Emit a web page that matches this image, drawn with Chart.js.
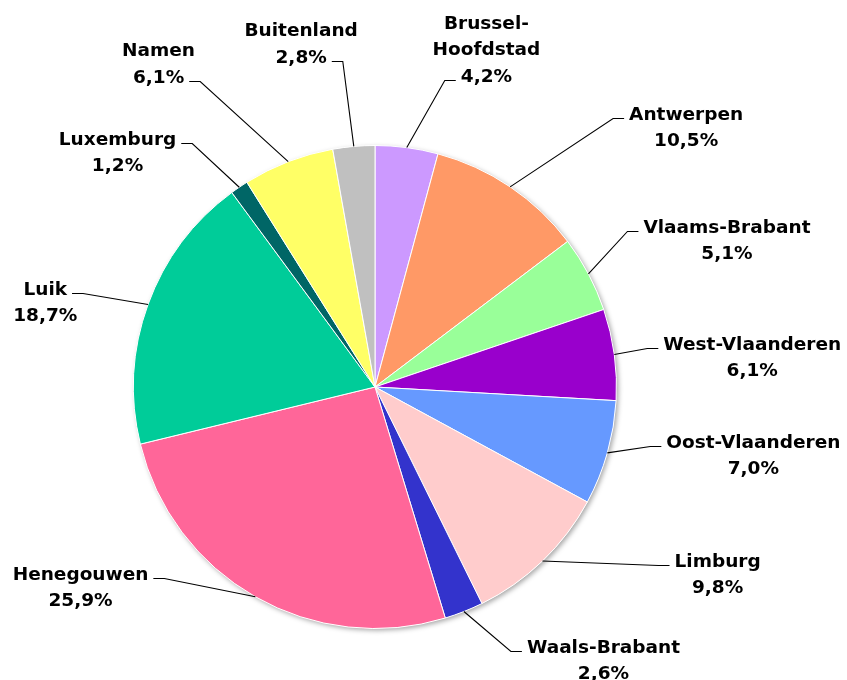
<!DOCTYPE html>
<html>
<head>
<meta charset="utf-8">
<script src="https://cdn.jsdelivr.net/npm/chart.js@4/dist/chart.umd.min.js"></script>
<style>
  html, body { margin: 0; padding: 0; background: #fff; }
  #wrap { width: 847px; height: 680px; position: relative; }
</style>
</head>
<body>
<div id="wrap"><canvas id="pie"></canvas></div>
<script>
// provinces, clockwise from the top
const categories = [
  "Brussel-\nHoofdstad", "Antwerpen", "Vlaams-Brabant", "West-Vlaanderen",
  "Oost-Vlaanderen", "Limburg", "Waals-Brabant", "Henegouwen",
  "Luik", "Luxemburg", "Namen", "Buitenland"
];
const shares = [4.2, 10.5, 5.1, 6.1, 7.0, 9.8, 2.6, 25.9, 18.7, 1.2, 6.1, 2.8];

const sliceColors = [
  "#CC99FF", "#FF9966", "#99FF99", "#9900CC", "#6699FF", "#FFCCCC",
  "#3333CC", "#FF6699", "#00CC99", "#006666", "#FFFF66", "#C0C0C0"
];

// where each label's leader line bends, relative to the slice's outer edge
// attach = which text line the leader points at
const labelLayout = [
  { dx: 38, dy: -68, attach: 2 },
  { dx: 103, dy: -69, attach: 0 },
  { dx: 39, dy: -43, attach: 0 },
  { dx: 33, dy: -6, attach: 0 },
  { dx: 43, dy: -7, attach: 0 },
  { dx: 116, dy: 4, attach: 0 },
  { dx: 47, dy: 39, attach: 0 },
  { dx: -91, dy: -19, attach: 0 },
  { dx: -65, dy: -11, attach: 0 },
  { dx: -47, dy: -44, attach: 0 },
  { dx: -88, dy: -81, attach: 1 },
  { dx: -11, dy: -85, attach: 1 }
];

const labelFont = "bold 18.5px 'DejaVu Sans', sans-serif";
const lineHeight = 26.5;

function fmtPct(v) {
  return v.toFixed(1).replace(".", ",") + "%";
}

// soft shadow under the whole pie
const pieShadow = {
  id: "pieShadow",
  beforeDatasetsDraw(chart) {
    const arc = chart.getDatasetMeta(0).data[0];
    if (!arc) return;
    const { x, y, outerRadius } = arc.getProps(["x", "y", "outerRadius"], true);
    const ctx = chart.ctx;
    ctx.save();
    ctx.shadowColor = "rgba(0,0,0,0.35)";
    ctx.shadowBlur = 5;
    ctx.shadowOffsetX = 2;
    ctx.shadowOffsetY = 2;
    ctx.fillStyle = "#fff";
    ctx.beginPath();
    ctx.arc(x, y, outerRadius, 0, Math.PI * 2);
    ctx.fill();
    ctx.restore();
  }
};

// outside labels with leader lines
const leaderLabels = {
  id: "leaderLabels",
  afterDatasetsDraw(chart) {
    const ctx = chart.ctx;
    const meta = chart.getDatasetMeta(0);
    ctx.save();
    ctx.font = labelFont;
    ctx.fillStyle = "#000";
    ctx.strokeStyle = "#000";
    ctx.lineWidth = 1.1;
    meta.data.forEach((arc, i) => {
      const p = arc.getProps(["x", "y", "startAngle", "endAngle", "outerRadius"], true);
      const mid = (p.startAngle + p.endAngle) / 2;
      const ex = p.x + Math.cos(mid) * p.outerRadius;
      const ey = p.y + Math.sin(mid) * p.outerRadius;
      const lay = labelLayout[i];
      const bx = ex + lay.dx;
      const by = Math.round(ey + lay.dy) + 0.5;
      const side = lay.dx >= 0 ? 1 : -1;
      const hx = bx + side * 11;

      ctx.beginPath();
      ctx.moveTo(ex, ey);
      ctx.lineTo(bx, by);
      ctx.lineTo(hx, by);
      ctx.stroke();

      const lines = categories[i].split("\n").concat([fmtPct(shares[i])]);
      const wAttach = ctx.measureText(lines[lay.attach]).width;
      const cx = side > 0 ? hx + 5 + wAttach / 2 : hx - 5 - wAttach / 2;
      const base0 = by + 1 - lay.attach * lineHeight;
      ctx.textAlign = "center";
      ctx.textBaseline = "alphabetic";
      lines.forEach((t, k) => ctx.fillText(t, cx, base0 + k * lineHeight));
    });
    ctx.restore();
  }
};

new Chart(document.getElementById("pie"), {
  type: "pie",
  data: {
    labels: categories,
    datasets: [{
      data: shares,
      backgroundColor: sliceColors,
      borderColor: "#fff",
      borderWidth: 1
    }]
  },
  options: {
    responsive: true,
    maintainAspectRatio: false,
    animation: false,
    layout: { padding: { left: 133, top: 145, right: 230, bottom: 51 } },
    plugins: {
      legend: { display: false },
      tooltip: { enabled: false }
    }
  },
  plugins: [pieShadow, leaderLabels]
});
</script>
</body>
</html>
